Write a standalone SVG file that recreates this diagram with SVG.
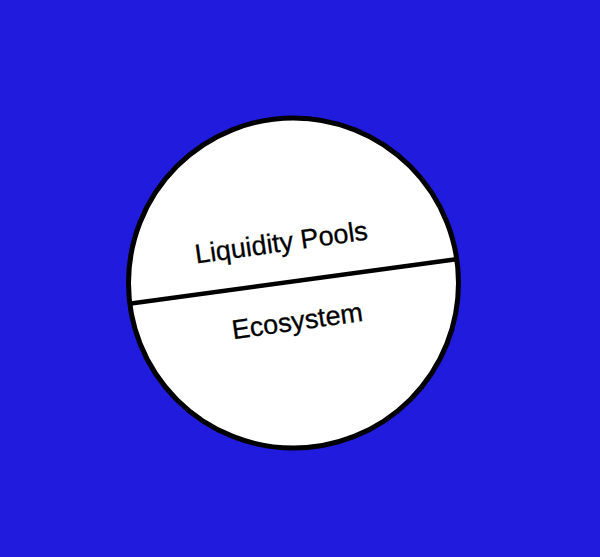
<svg xmlns="http://www.w3.org/2000/svg" width="600" height="557" viewBox="0 0 600 557">
<style>
.lbl{font-family:"Liberation Sans",Arial,sans-serif;font-size:27px;fill:#000;stroke:#000;stroke-width:0.3;text-anchor:middle}
</style>
<rect width="600" height="557" fill="#201BDD"/>
<g id="circle-node">
<circle cx="293.5" cy="283" r="165" fill="#fff" stroke="#000" stroke-width="5"/>
</g>
<g id="connectors">
<line x1="131" y1="303.5" x2="458" y2="259" stroke="#000" stroke-width="4.5"/>
</g>
<g id="liquidity-pools">
<text class="lbl" transform="translate(282.5,251.5) rotate(-8)">Liquidity Pools</text>
</g>
<g id="ecosystem">
<text class="lbl" transform="translate(298.5,330) rotate(-8)">Ecosystem</text>
</g>
</svg>
